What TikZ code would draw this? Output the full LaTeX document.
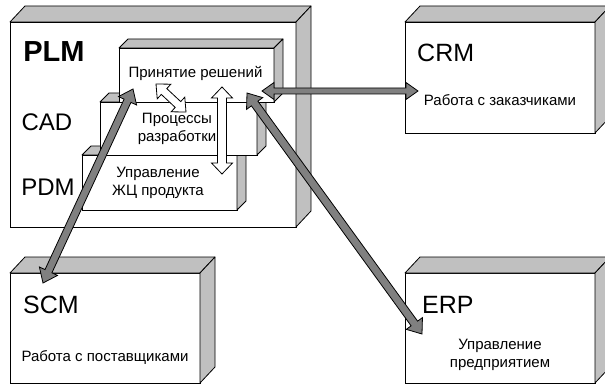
\documentclass[tikz,border=0pt]{standalone}
\usepackage{fontspec}
\setmainfont{Liberation Sans}
\usetikzlibrary{calc}
\definecolor{sidegray}{HTML}{C0C0C0}
\definecolor{arrowgray}{HTML}{808080}
\tikzset{
  front/.style={draw=black, fill=white, line width=0.8pt, rectangle, inner sep=0pt, outer sep=0pt},
  face/.style={draw=black, fill=sidegray, line width=0.8pt, line join=round},
  big/.style={font=\fontsize{25}{30}\selectfont, inner sep=0pt},
  small/.style={font=\fontsize{15}{18}\selectfont, align=center, inner sep=0pt},
  grayarrow/.style={draw=black, fill=arrowgray, line width=0.8pt, line join=miter},
  whitearrow/.style={draw=black, fill=white, line width=0.8pt, line join=miter},
}
\newcommand\boxfaces[3]{%
  \filldraw[face] (#1.north west) -- ++(#2,#3) -- ($(#1.north east)+(#2,#3)$) -- (#1.north east) -- cycle;
  \filldraw[face] (#1.north east) -- ++(#2,#3) -- ($(#1.south east)+(#2,#3)$) -- (#1.south east) -- cycle;}
% #1 start, #2 end, #3 shaft half width, #4 head half width, #5 head length, #6 style
\newcommand\fatarrow[6]{%
  \coordinate (#1-h) at ($(#1)!#5!(#2)$);
  \coordinate (#2-h) at ($(#2)!#5!(#1)$);
  \draw[#6] (#1)
    -- ($(#1-h)!#4!90:(#2)$)
    -- ($(#1-h)!#3!90:(#2)$)
    -- ($(#2-h)!#3!-90:(#1)$)
    -- ($(#2-h)!#4!-90:(#1)$)
    -- (#2)
    -- ($(#2-h)!#4!90:(#1)$)
    -- ($(#2-h)!#3!90:(#1)$)
    -- ($(#1-h)!#3!-90:(#2)$)
    -- ($(#1-h)!#4!-90:(#2)$)
    -- cycle;}
\begin{document}
\begin{tikzpicture}[x=1pt, y=-1pt]
\useasboundingbox (0,0) rectangle (605,385);
\clip (0,0) rectangle (605,385);
\fill[white] (0,0) rectangle (605,385);

% outer systems
\node[front, minimum width=286pt, minimum height=205pt] (plm) at (153,124.5) {};
\boxfaces{plm}{15}{-16}
\node[front, minimum width=190pt, minimum height=111pt] (crm) at (500,77.5) {};
\boxfaces{crm}{15}{-16}
\node[front, minimum width=190pt, minimum height=110pt] (scm) at (105,328) {};
\boxfaces{scm}{15}{-16}
\node[front, minimum width=190pt, minimum height=110pt] (erp) at (500,328) {};
\boxfaces{erp}{15}{-16}

% inner boxes
\node[front, minimum width=155pt, minimum height=55pt] (lcm) at (159.5,182.5) {};
\boxfaces{lcm}{9}{-9}
\node[front, minimum width=157pt, minimum height=53pt] (proc) at (178.5,128.5) {};
\boxfaces{proc}{9}{-9}
\node[front, minimum width=155pt, minimum height=54pt] (dec) at (196.5,75) {};
\boxfaces{dec}{9}{-9}

% labels
\node[inner sep=0pt, font=\fontsize{29}{34}\selectfont\bfseries] (plmt) at (54,52) {PLM};
\node[big, font=\fontsize{24}{29}\selectfont] (cadt) at (47,122) {CAD};
\node[big, font=\fontsize{24}{29}\selectfont] (pdmt) at (48,187) {PDM};
\node[big, anchor=west] (crmt) at (417,53) {CRM};
\node[big, anchor=west] (scmt) at (23,305) {SCM};
\node[big, anchor=west] (erpt) at (422,305) {ERP};

\node[small] (dect) at (195.5,73) {Принятие решений};
\node[small] (proct) at (177,129) {Процессы\\разработки};
\node[small] (lcmt) at (158,183) {Управление\\ЖЦ продукта};
\node[small] (crms) at (500,100) {Работа с заказчиками};
\node[small] (scms) at (105,357) {Работа с поставщиками};
\node[small] (erps) at (500,355) {Управление\\предприятием};

% white arrows inside PLM
\coordinate (wa1) at (156,84);
\coordinate (wa2) at (186,112);
\coordinate (wb1) at (222,87);
\coordinate (wb2) at (222,174);
\fatarrow{wa1}{wa2}{4pt}{10pt}{11pt}{whitearrow}
\fatarrow{wb1}{wb2}{4.5pt}{10.5pt}{11pt}{whitearrow}

% gray arrows between systems
\coordinate (c1) at (262,91);
\coordinate (c2) at (418,91);
\coordinate (s1) at (133,89);
\coordinate (s2) at (43,283);
\coordinate (e1) at (247,93);
\coordinate (e2) at (422,334);
\fatarrow{c1}{c2}{3pt}{8.5pt}{12pt}{grayarrow}
\fatarrow{s1}{s2}{3.8pt}{10pt}{13pt}{grayarrow}
\fatarrow{e1}{e2}{4pt}{10pt}{13pt}{grayarrow}
\end{tikzpicture}
\end{document}
